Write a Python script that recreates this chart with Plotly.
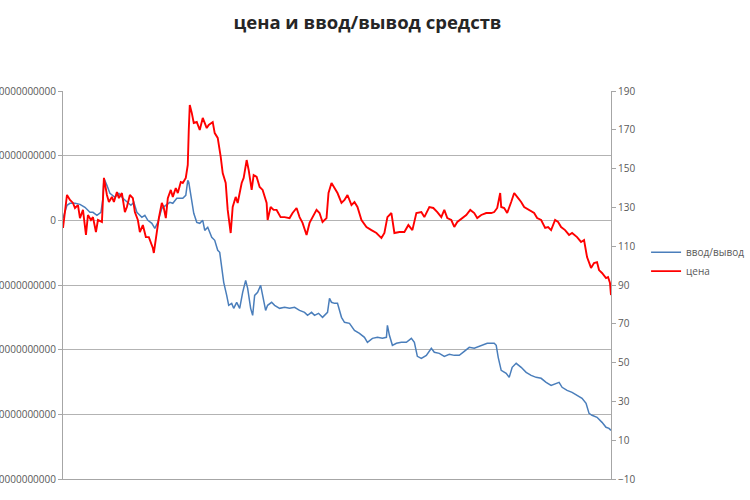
import plotly.graph_objects as go

# ---- data ----
# price series (right axis)
price_day = [0, 4, 7, 10, 12, 15, 17, 20, 23, 25, 28, 30, 33, 35, 39, 41, 44, 46, 49, 51, 54, 56, 59, 62, 64, 67, 70, 72, 75, 77,
             80, 83, 86, 90, 91, 94, 96, 99, 101, 103, 105, 108, 110, 113, 115, 118, 120, 123, 125, 126, 127, 129, 131, 134, 137, 140,
             144, 146, 150, 152, 155, 158, 160, 163, 165, 168, 170, 173, 175, 179, 181, 184, 186, 189, 191, 194, 197, 200, 204, 205,
             208, 211, 214, 218, 222, 227, 230, 234, 237, 240, 244, 247, 250, 254, 257, 260, 264, 266, 269, 272, 275, 279, 282, 285,
             289, 292, 295, 299, 304, 309, 314, 319, 322, 325, 329, 332, 337, 342, 346, 350, 354, 359, 362, 367, 371, 375, 379, 382,
             385, 389, 392, 395, 400, 404, 408, 412, 415, 419, 424, 429, 432, 435, 438, 439, 442, 445, 449, 452, 455, 459, 462, 467,
             472, 475, 479, 483, 486, 489, 493, 496, 499, 503, 507, 510, 515, 519, 522, 525, 529, 532, 535, 537, 540, 544, 546, 548, 549]
price = [119.4, 136.4, 133.8, 132.3, 129.7, 131.2, 124.5, 128.7, 115.8, 126.1, 123.5, 125.0, 117.3, 123.5, 122.5, 145.2, 136.4,
         132.8, 135.4, 132.8, 137.9, 134.8, 137.4, 127.6, 130.2, 136.4, 134.8, 127.6, 123.5, 117.3, 120.9, 114.7, 114.7, 109.1,
         106.5, 117.3, 124.5, 132.3, 129.7, 124.5, 134.8, 139.0, 135.4, 140.0, 137.4, 143.1, 142.6, 145.2, 151.9, 169.9, 182.8,
         178.7, 173.5, 174.0, 169.9, 176.1, 170.9, 172.5, 174.0, 168.3, 165.8, 156.0, 147.7, 142.6, 128.7, 116.8, 130.2, 135.4,
         132.3, 142.6, 145.2, 154.4, 149.3, 139.0, 146.7, 145.7, 140.5, 139.0, 132.3, 123.5, 130.2, 128.7, 128.7, 125.0, 125.0,
         124.5, 127.1, 129.7, 125.0, 122.0, 115.8, 122.0, 125.0, 128.7, 127.1, 122.5, 124.5, 137.4, 142.6, 140.0, 137.4, 132.3,
         133.8, 136.4, 131.2, 132.8, 130.2, 123.5, 119.9, 118.3, 116.8, 114.2, 116.8, 125.0, 127.1, 116.8, 117.3, 117.3, 120.9,
         118.3, 127.1, 127.6, 125.0, 130.2, 129.7, 127.6, 125.0, 128.7, 124.5, 123.5, 119.9, 122.5, 124.5, 126.1, 128.7, 127.1,
         124.5, 126.1, 127.1, 127.1, 127.6, 129.7, 137.4, 130.2, 129.7, 127.1, 132.8, 137.4, 135.4, 132.8, 130.2, 128.7, 127.1,
         124.5, 123.5, 119.4, 119.9, 118.3, 123.5, 122.5, 119.9, 118.3, 115.8, 116.8, 114.7, 112.2, 113.2, 104.4, 98.8, 101.3,
         101.8, 97.7, 96.2, 93.6, 94.1, 91.0, 84.8]

# deposits / withdrawals series (left axis), in trillions
flow_day = [0, 2, 4, 7, 12, 17, 22, 27, 30, 34, 38, 40, 41, 44, 47, 52, 56, 60, 64, 68, 71, 74, 79, 82, 85, 89, 92, 95, 99, 103,
            107, 110, 114, 117, 120, 123, 125, 126, 129, 131, 134, 137, 140, 142, 145, 149, 152, 155, 157, 159, 161, 164, 166, 169,
            171, 174, 177, 180, 183, 185, 188, 190, 192, 195, 198, 200, 203, 205, 209, 212, 217, 222, 227, 232, 237, 242, 245, 249,
            252, 256, 260, 265, 267, 269, 272, 275, 279, 282, 287, 292, 297, 302, 305, 310, 315, 320, 324, 325, 327, 330, 334, 339,
            344, 349, 352, 355, 359, 364, 369, 372, 377, 382, 387, 392, 397, 402, 407, 412, 419, 425, 432, 434, 436, 439, 444, 447,
            450, 454, 459, 464, 469, 474, 479, 484, 489, 494, 497, 500, 505, 510, 515, 520, 524, 527, 530, 535, 540, 544, 547, 549]
flow = [0.31, 1.24, 2.32, 2.63, 2.63, 2.47, 2.01, 1.24, 1.24, 0.77, 1.24, 3.40, 6.49, 5.41, 4.18, 3.56, 4.18, 3.40, 2.78, 2.32,
        2.78, 1.24, 0.46, 0.77, 0.0, -0.46, -1.24, -0.31, 1.86, 2.32, 2.78, 2.63, 3.40, 3.40, 3.40, 3.87, 6.19, 5.88, 2.63, 1.08,
        -0.31, -0.46, 0.0, -1.55, -1.08, -2.63, -3.09, -4.64, -4.95, -7.27, -9.59, -11.60, -13.14, -12.84, -13.61, -12.68, -13.61,
        -11.13, -9.28, -10.52, -13.61, -14.69, -11.60, -11.13, -10.05, -11.60, -13.92, -13.14, -12.68, -13.14, -13.61, -13.45,
        -13.61, -13.45, -13.92, -14.23, -14.69, -14.23, -14.69, -14.38, -15.00, -14.23, -12.06, -12.68, -12.84, -12.84, -15.00,
        -15.77, -15.93, -17.01, -17.47, -18.09, -18.87, -18.25, -18.09, -18.25, -18.09, -16.24, -17.78, -19.33, -19.02, -18.87,
        -18.87, -18.25, -18.87, -21.03, -21.34, -20.88, -19.79, -20.41, -20.57, -21.03, -20.72, -20.88, -20.88, -20.26, -19.64,
        -19.79, -19.33, -19.02, -19.02, -19.33, -21.19, -23.20, -23.66, -24.28, -22.73, -22.11, -22.73, -23.51, -23.97, -24.28,
        -24.43, -25.05, -25.52, -25.21, -25.05, -25.82, -26.29, -26.60, -27.06, -27.53, -28.30, -29.85, -30.15, -30.46, -31.24,
        -32.01, -32.17, -32.48]

left_tick_vals = [20, 10, 0, -10, -20, -30, -40]
left_tick_labels = ["20000000000000", "10000000000000", "0", "-10000000000000",
                    "-20000000000000", "-30000000000000", "-40000000000000"]
right_tick_vals = [190, 170, 150, 130, 110, 90, 70, 50, 30, 10, -10]

series_names = ["ввод/вывод", "цена"]
title_text = "цена и ввод/вывод средств"

# ---- figure ----
fig = go.Figure()
fig.add_trace(go.Scatter(x=flow_day, y=flow, mode="lines", name=series_names[0],
                         line=dict(color="#4a7ebb", width=1.5), yaxis="y"))
fig.add_trace(go.Scatter(x=price_day, y=price, mode="lines", name=series_names[1],
                         line=dict(color="#ff0000", width=1.9), yaxis="y2"))

tick_font = dict(family="Open Sans, Liberation Sans, sans-serif", size=10, color="#595959")

fig.update_layout(
    template="none",
    width=750, height=500,
    paper_bgcolor="white", plot_bgcolor="white",
    margin=dict(l=63, r=139, t=91, b=21, autoexpand=False),
    title=dict(text="<b>" + title_text + "</b>", x=0.49, xanchor="center", y=0.955, yanchor="middle",
               font=dict(family="Open Sans, sans-serif", size=18.5, color="#262626")),
    xaxis=dict(range=[0, 549], showticklabels=False, showgrid=False, zeroline=False,
               showline=True, linecolor="#a6a6a6", linewidth=1, ticks="", automargin=False),
    yaxis=dict(range=[-40, 20], tickvals=left_tick_vals, ticktext=left_tick_labels,
               showgrid=True, gridcolor="#b3b3b3", gridwidth=1, zeroline=False,
               showline=True, linecolor="#a6a6a6", linewidth=1,
               ticks="outside", ticklen=4, tickcolor="#a6a6a6",
               tickfont=tick_font, automargin=False),
    yaxis2=dict(range=[-10, 190], tickvals=right_tick_vals, overlaying="y", side="right",
                showgrid=False, zeroline=False, showline=True, linecolor="#a6a6a6", linewidth=1,
                ticks="outside", ticklen=4, tickcolor="#a6a6a6",
                tickfont=tick_font, automargin=False),
    legend=dict(x=1.064, y=0.622, xanchor="left", yanchor="top", bgcolor="rgba(0,0,0,0)",
                font=dict(family="Open Sans, sans-serif", size=10, color="#595959"),
                itemwidth=30, tracegroupgap=0),
    showlegend=True,
)

fig.write_html("out.html")
